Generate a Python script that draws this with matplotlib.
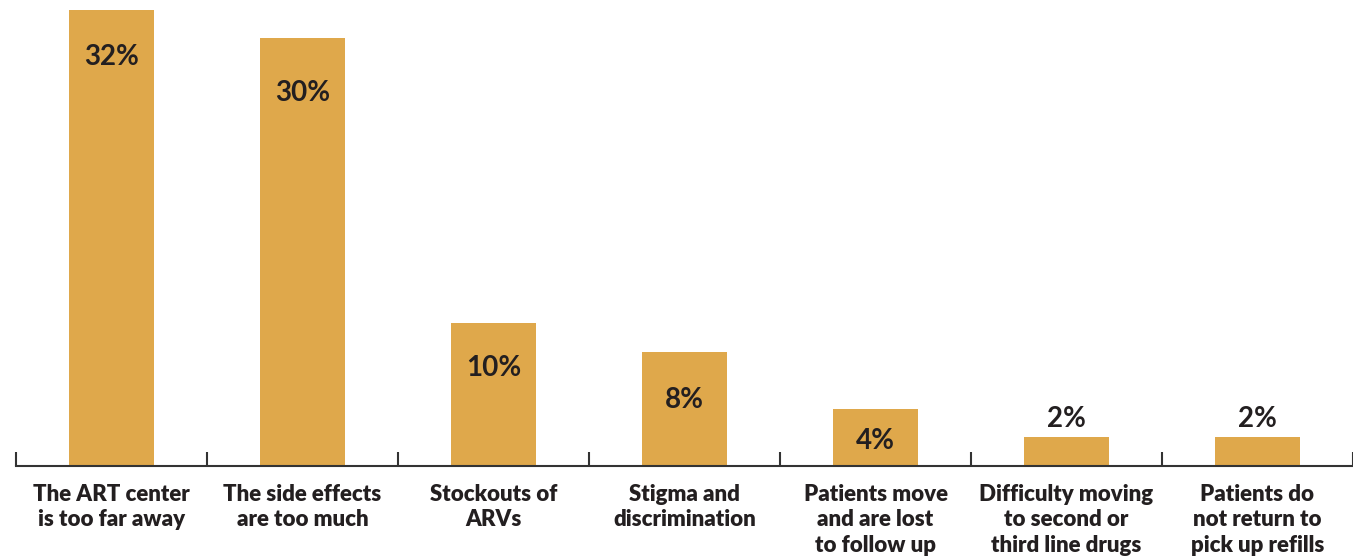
import numpy as np
import matplotlib.pyplot as plt

# Reasons reported for stopping treatment
categories = [
    "The ART center\nis too far away",
    "The side effects\nare too much",
    "Stockouts of\nARVs",
    "Stigma and\ndiscrimination",
    "Patients move\nand are lost\nto follow up",
    "Difficulty moving\nto second or\nthird line drugs",
    "Patients do\nnot return to\npick up refills",
]
shares = [32, 30, 10, 8, 4, 2, 2]

# label placement relative to bar top (points); negative = inside the bar
label_offsets = [-34, -39, -32, -35, -23, 13, 13]

bar_color = "#DFA84B"
text_color = "#231F20"

fig = plt.figure(figsize=(13.53, 5.56), dpi=100)
ax = fig.add_axes([16 / 1353, 90.3 / 556, 1337 / 1353, 465.7 / 556])

x = np.arange(len(categories))
bars = ax.bar(x, shares, width=0.44, color=bar_color, zorder=2)

for bar, val, off in zip(bars, shares, label_offsets):
    ax.annotate(f"{val}%", (bar.get_x() + bar.get_width() / 2, val),
                xytext=(0, off), textcoords="offset points",
                ha="center", va="center", fontsize=20,
                family="Lato", weight="bold", color=text_color)

ax.set_xlim(-0.5, -0.5 + 1337 / 192.3)
ax.set_ylim(0, 32.7)

# category labels on major ticks, separators on minor ticks
ax.set_xticks(x)
ax.set_xticklabels(categories, fontsize=16, family="Lato", weight="heavy",
                   color=text_color, linespacing=1.27, va="top")
ax.tick_params(axis="x", which="major", length=0, pad=13)
ax.set_xticks(np.arange(-0.5, len(categories), 1.0), minor=True)
ax.tick_params(axis="x", which="minor", direction="in", length=10,
               width=1.5, color="#333333")

ax.set_yticks([])
for side in ["top", "right", "left"]:
    ax.spines[side].set_visible(False)
ax.spines["bottom"].set_color("#333333")
ax.spines["bottom"].set_linewidth(1.5)

fig.savefig("out.png", dpi=100)
